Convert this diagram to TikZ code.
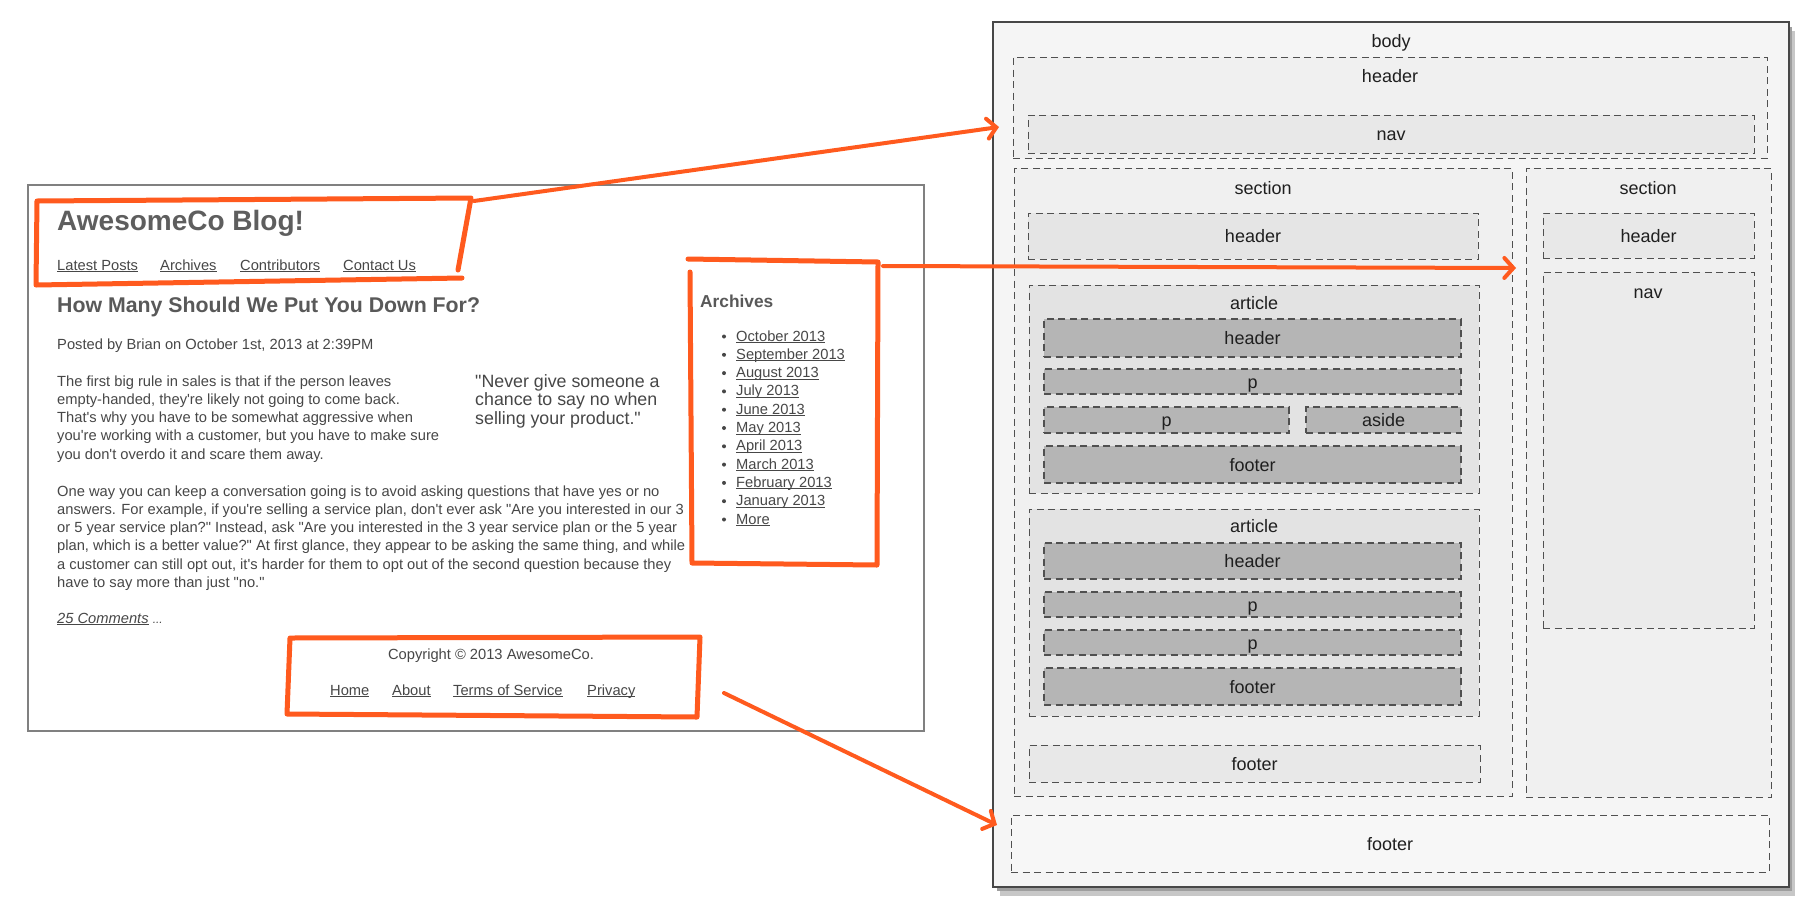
\documentclass[tikz,border=0pt]{standalone}
\usepackage{fontspec}
\newfontfamily\lib{Liberation Sans}
\usetikzlibrary{arrows.meta,fit}
\definecolor{org}{HTML}{FF5A1E}
\definecolor{txtc}{HTML}{474747}
\definecolor{dashc}{HTML}{505050}
\newcommand\ulk[1]{\setbox0=\hbox{#1}\rlap{\rule[-1.8pt]{\wd0}{0.8pt}}\box0}
\newcommand\leafbox[5]{\node[#1, fit={#2 #3}] (#4) {};\node[lbl] (#4-t) at (#4.center) {#5};}
\begin{document}
\begin{tikzpicture}[x=1pt,y=-1pt,
  txt/.style={anchor=base west, inner sep=0pt, text=txtc, font=\lib\fontsize{14.7}{18}\selectfont},
  lbl/.style={inner sep=0pt, text height=13pt, text depth=0pt, text=black!88, font=\lib\fontsize{18}{20}\selectfont},
  dbox/.style={draw=dashc, dash pattern=on 7pt off 4.5pt, line width=0.9pt, inner sep=0pt},
  lite/.style={dbox, fill=#1},
  dark/.style={dbox, fill=black!29, line width=1.1pt},
  orng/.style={draw=org, line width=5pt, line cap=round, line join=round},
  oarr/.style={draw=org, line width=4pt, line cap=round, -{Straight Barb[length=9pt,width=20pt,line cap=round]}},
]
\useasboundingbox (0,0) rectangle (1819,900);
\fill[white] (0,0) rectangle (1819,900);

% ---------------- browser screenshot ----------------
\node[draw=black!50, line width=1.2pt, fill=white, inner sep=0pt, fit={(28,185) (924,731)}] (browser) {};

\node[txt, font=\lib\bfseries\fontsize{28}{30}\selectfont, text=black!63] (title) at (57,230) {AwesomeCo Blog!};
\node[txt] (nav1) at (57,270) {\ulk{Latest Posts}};
\node[txt] (nav2) at (160,270) {\ulk{Archives}};
\node[txt] (nav3) at (240,270) {\ulk{Contributors}};
\node[txt] (nav4) at (343,270) {\ulk{Contact Us}};

\node[txt, font=\lib\bfseries\fontsize{21.3}{24}\selectfont, text=black!65] (head) at (57,312) {How Many Should We Put You Down For?};
\node[txt] (posted) at (57,349) {Posted by Brian on October 1st, 2013 at 2:39PM};

\node[txt] (pa1) at (57,386) {The first big rule in sales is that if the person leaves};
\node[txt] (pa2) at (57,404.3) {empty-handed, they're likely not going to come back.};
\node[txt] (pa3) at (57,422.6) {That's why you have to be somewhat aggressive when};
\node[txt] (pa4) at (57,440.9) {you're working with a customer, but you have to make sure};
\node[txt] (pa5) at (57,459.2) {you don't overdo it and scare them away.};

\node[txt, font=\lib\fontsize{17.8}{19}\selectfont] (q1) at (475,387) {"Never give someone a};
\node[txt, font=\lib\fontsize{17.8}{19}\selectfont] (q2) at (475,405.5) {chance to say no when};
\node[txt, font=\lib\fontsize{17.8}{19}\selectfont] (q3) at (475,424) {selling your product."};

\node[txt] (pb1) at (57,496) {One way you can keep a conversation going is to avoid asking questions that have yes or no};
\node[txt] (pb2) at (57,514.3) {answers. For example, if you're selling a service plan, don't ever ask "Are you interested in our 3};
\node[txt] (pb3) at (57,532.6) {or 5 year service plan?" Instead, ask "Are you interested in the 3 year service plan or the 5 year};
\node[txt] (pb4) at (57,550.9) {plan, which is a better value?" At first glance, they appear to be asking the same thing, and while};
\node[txt] (pb5) at (57,569.2) {a customer can still opt out, it's harder for them to opt out of the second question because they};
\node[txt] (pb6) at (57,587.5) {have to say more than just "no."};

\node[txt, font=\lib\itshape\fontsize{14.7}{18}\selectfont] (comm) at (57,623) {\ulk{25 Comments}\ {\fontsize{12}{14}\selectfont ...}};

\node[txt, anchor=base] (copy) at (491,659) {Copyright © 2013 AwesomeCo.};
\node[txt] (f1) at (330,695) {\ulk{Home}};
\node[txt] (f2) at (392,695) {\ulk{About}};
\node[txt] (f3) at (453,695) {\ulk{Terms of Service}};
\node[txt] (f4) at (587,695) {\ulk{Privacy}};

\node[txt, font=\lib\bfseries\fontsize{17.3}{19}\selectfont, text=black!65] (arch) at (700,307) {Archives};
\foreach \t [count=\i from 0] in {October 2013,September 2013,August 2013,July 2013,June 2013,May 2013,April 2013,March 2013,February 2013,January 2013,More}{
  \fill[txtc] (724,{341+18.3*\i-4.5}) circle (2pt);
  \node[txt] (li\i) at (736,{341+18.3*\i}) {\ulk{\t}};
}

% ---------------- orange highlight boxes ----------------
\draw[orng] (458,270) -- (471,198) -- (37,201) -- (36,285) -- (462,278);
\draw[orng] (690,272) -- (692,563) -- (877,565) -- (878,262) -- (688,259);
\draw[orng] (290,638) -- (700,637) -- (697,717) -- (287,714) -- cycle;

% ---------------- right: structure diagram ----------------
\fill[black!22] (1000,31) rectangle (1795,896);
\fill[black!38] (997,27) rectangle (1792,891);
\node[draw=black!72, line width=1.5pt, fill=black!4, inner sep=0pt, fit={(993,22) (1789,887)}] (body) {};
\node[lbl] (body-t) at (1391,41) {body};

\node[lite=black!6, fit={(1013,57) (1767,158)}] (bhead) {};
\node[lbl] (bhead-t) at (1390,76) {header};
\leafbox{lite=black!9}{(1028,115)}{(1754,153)}{bnav}{nav}

\node[lite=black!6, fit={(1014,168) (1512,796)}] (secL) {};
\node[lbl] (secL-t) at (1263,188) {section};
\leafbox{lite=black!10}{(1028,213)}{(1478,259)}{sLh}{header}

\node[lite=black!11, fit={(1029,285) (1479,493)}] (art1) {};
\node[lbl] (art1-t) at (1254,303) {article};
\leafbox{dark}{(1044,319)}{(1461,357)}{a1h}{header}
\leafbox{dark}{(1044,369)}{(1461,394)}{a1p}{p}
\leafbox{dark}{(1044,407)}{(1289,433)}{a1q}{p}
\leafbox{dark}{(1306,407)}{(1461,433)}{a1a}{aside}
\leafbox{dark}{(1044,446)}{(1461,483)}{a1f}{footer}

\node[lite=black!11, fit={(1029,509) (1479,716)}] (art2) {};
\node[lbl] (art2-t) at (1254,526) {article};
\leafbox{dark}{(1044,543)}{(1461,579)}{a2h}{header}
\leafbox{dark}{(1044,592)}{(1461,617)}{a2p}{p}
\leafbox{dark}{(1044,630)}{(1461,655)}{a2q}{p}
\leafbox{dark}{(1044,668)}{(1461,705)}{a2f}{footer}

\leafbox{lite=black!9}{(1029,745)}{(1480,782)}{sLf}{footer}

\node[lite=black!6, fit={(1526,168) (1771,797)}] (secR) {};
\node[lbl] (secR-t) at (1648,188) {section};
\leafbox{lite=black!9}{(1543,213)}{(1754,258)}{sRh}{header}
\node[lite=black!8, fit={(1543,272) (1754,628)}] (sRn) {};
\node[lbl] (sRn-t) at (1648,292) {nav};

\leafbox{lite=black!3}{(1011,815)}{(1769,872)}{bfoot}{footer}

% ---------------- arrows ----------------
\coordinate (a1s) at (474,201);
\coordinate (a1e) at (999,127);
\coordinate (a2s) at (883,266);
\coordinate (a2e) at (1516,268);
\coordinate (a3s) at (724,693);
\coordinate (a3e) at (997,825);
\draw[oarr] (a1s) -- (a1e);
\draw[oarr] (a2s) -- (a2e);
\draw[oarr] (a3s) -- (a3e);
\end{tikzpicture}
\end{document}
